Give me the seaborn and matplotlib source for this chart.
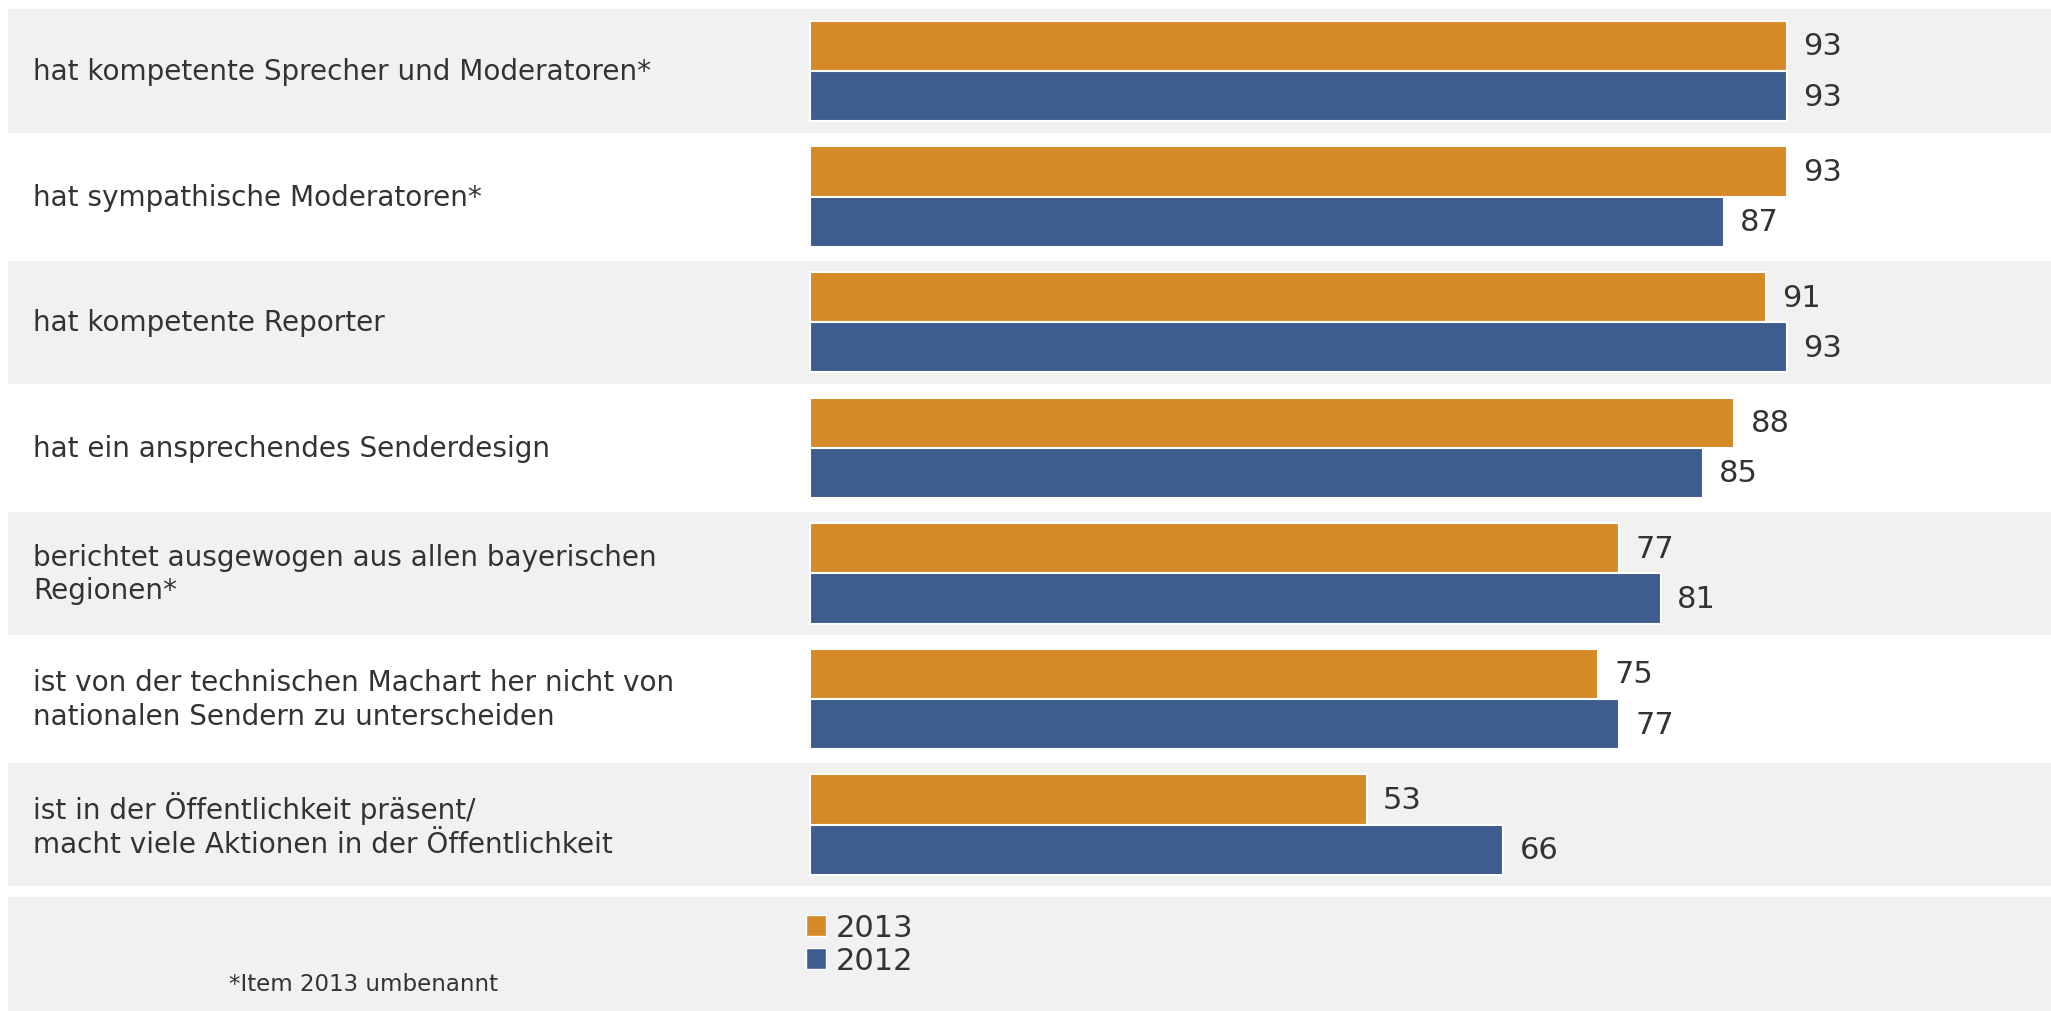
import pandas as pd
import matplotlib
matplotlib.use('Agg')
import matplotlib.pyplot as plt
from matplotlib.patches import Patch
import seaborn as sns

items = ['hat kompetente Sprecher und Moderatoren*',
         'hat sympathische Moderatoren*',
         'hat kompetente Reporter',
         'hat ein ansprechendes Senderdesign',
         'berichtet ausgewogen aus allen bayerischen\nRegionen*',
         'ist von der technischen Machart her nicht von\nnationalen Sendern zu unterscheiden',
         'ist in der Öffentlichkeit präsent/\nmacht viele Aktionen in der Öffentlichkeit']
werte_2013 = [93, 93, 91, 88, 77, 75, 53]
werte_2012 = [93, 87, 93, 85, 81, 77, 66]
jahre = ['2013', '2012']
footnote = '*Item 2013 umbenannt'

orange = '#D58927'
blau = '#3D5D8F'
grau = '#F1F1F1'
txt = '#333333'

ds = pd.DataFrame({
    'item': items * 2,
    'wert': werte_2013 + werte_2012,
    'jahr': ['2013'] * len(items) + ['2012'] * len(items),
})

sns.set_style('white')
plt.rcParams['font.family'] = ['DejaVu Sans']

W, H = 2051, 1012
fig = plt.figure(figsize=(W / 100, H / 100), dpi=100)
ax = fig.add_axes([0, 0, 1, 1])

# hintergrund streifen
for i in range(0, len(items), 2):
    ax.axhspan(i - 0.49, i + 0.49, xmin=8 / W, xmax=1, color=grau, zorder=0, lw=0)
ax.axhspan(6.576, 7.6, xmin=8 / W, xmax=1, color=grau, zorder=0, lw=0)

sns.barplot(data=ds, x='wert', y='item', hue='jahr', hue_order=jahre,
            palette=[orange, blau], saturation=1, orient='h', ax=ax, width=0.8,
            edgecolor='white', linewidth=1.5, legend=False, zorder=2)

for c in ax.containers:
    ax.bar_label(c, padding=12, fontsize=22, color=txt)

ax.set_xlim(-810 / 10.5, (W - 810) / 10.5)
ax.set_ylim((H - 72) / 125.6, -72 / 125.6)
ax.axis('off')

for i, lab in enumerate(items):
    ax.text(33 / W, i, lab, transform=ax.get_yaxis_transform(), ha='left',
            va='center', fontsize=20.1, color=txt, linespacing=1.25)

handles = [Patch(facecolor=orange), Patch(facecolor=blau)]
fig.legend(handles, jahre, loc='upper left', bbox_to_anchor=(806 / W, 1 - 914 / H),
           frameon=False, fontsize=22, handlelength=0.66, handleheight=0.66,
           handletextpad=0.3, labelspacing=0.13, borderpad=0, borderaxespad=0,
           labelcolor=txt)

fig.text(229 / W, 1 - 985 / H, footnote, fontsize=16.5, color=txt, va='center')

fig.savefig('out.png', dpi=100)
